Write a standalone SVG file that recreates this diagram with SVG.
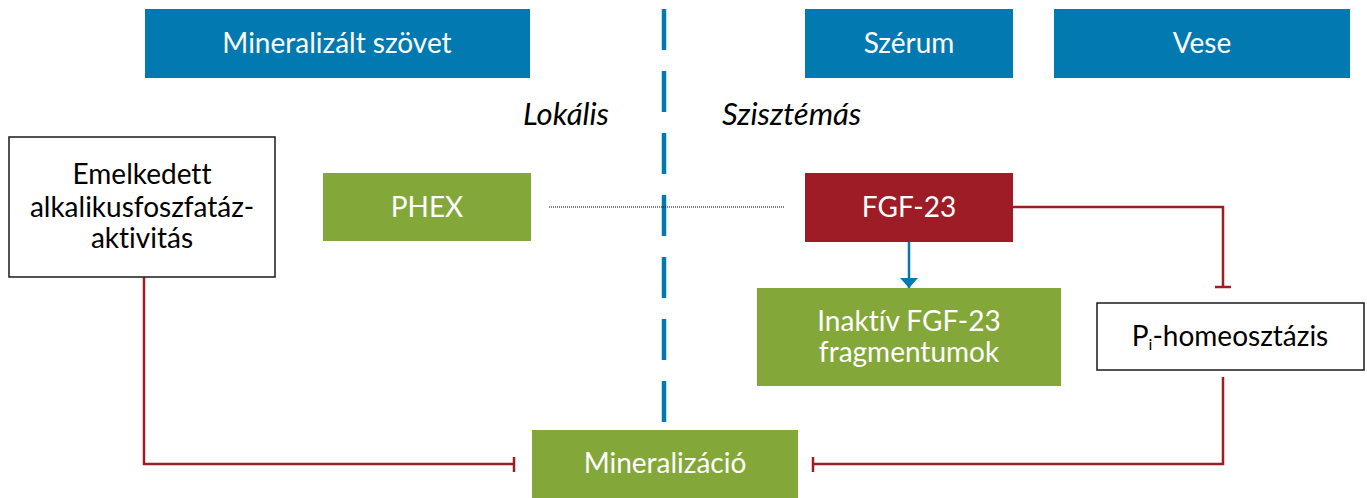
<svg xmlns="http://www.w3.org/2000/svg" width="1367" height="498" viewBox="0 0 1367 498">
<defs>
<style>
.hdr{fill:#027ab1}
.grn{fill:#84a73a}
.red{fill:#9e1c25}
.wbox{fill:#fff;stroke:#1a1a1a;stroke-width:1.5}
.t{font-family:Lato,"Open Sans",sans-serif;font-size:28px;text-anchor:middle;font-variant-ligatures:none}
.tw{fill:#fff}
.tb{fill:#000}
.it{font-family:Lato,"Open Sans",sans-serif;font-size:31px;font-style:italic;fill:#000}
.inh{fill:none;stroke:#9e1c25;stroke-width:2.5}
</style>
<marker id="arr" viewBox="0 0 10 18" refX="10" refY="9" markerWidth="10" markerHeight="18" markerUnits="userSpaceOnUse" orient="auto">
<path d="M0,0 L10,9 L0,18 Z" fill="#027ab1"/>
</marker>
</defs>
<rect width="1367" height="498" fill="#fff"/>

<g id="divider">
<line x1="664" y1="9" x2="664" y2="425" stroke="#027ab1" stroke-width="4.5" stroke-dasharray="41 21"/>
</g>

<g id="hdr-mineralizalt">
<rect class="hdr" x="145" y="9" width="385" height="69"/>
<text class="t tw" x="337" y="53">Mineralizált szövet</text>
</g>
<g id="hdr-szerum">
<rect class="hdr" x="805" y="9" width="208" height="69"/>
<text class="t tw" x="909" y="53">Szérum</text>
</g>
<g id="hdr-vese">
<rect class="hdr" x="1054" y="9" width="296" height="69"/>
<text class="t tw" x="1202" y="53">Vese</text>
</g>
<g id="lbl-lokalis">
<text class="it" x="609" y="125" text-anchor="end">Lokális</text>
</g>
<g id="lbl-szisztemas">
<text class="it" x="722" y="125">Szisztémás</text>
</g>

<g id="connectors">
<line x1="549" y1="207" x2="785" y2="207" stroke="#000" stroke-width="1" stroke-dasharray="1 1"/>
<line x1="909" y1="242" x2="909" y2="288" stroke="#027ab1" stroke-width="2.5" marker-end="url(#arr)"/>
<polyline class="inh" points="1013,207 1223,207 1223,287"/>
<line class="inh" x1="1215" y1="287" x2="1231" y2="287"/>
<polyline class="inh" points="1223,377 1223,464 813,464"/>
<line class="inh" x1="813" y1="457" x2="813" y2="472"/>
<polyline class="inh" points="144,277 144,464 514,464"/>
<line class="inh" x1="514" y1="457" x2="514" y2="472"/>
</g>

<g id="node-emelkedett">
<rect class="wbox" x="9" y="137" width="266" height="140"/>
<text class="t tb" x="142" y="184">Emelkedett</text>
<text class="t tb" x="142" y="217">alkalikusfoszfatáz-</text>
<text class="t tb" x="142" y="248">aktivitás</text>
</g>
<g id="node-phex">
<rect class="grn" x="323" y="173" width="208" height="68"/>
<text class="t tw" x="427" y="217">PHEX</text>
</g>
<g id="node-fgf23">
<rect class="red" x="805" y="173" width="208" height="69"/>
<text class="t tw" x="909" y="217">FGF-23</text>
</g>
<g id="node-inaktiv">
<rect class="grn" x="757" y="288" width="304" height="98"/>
<text class="t tw" x="909" y="331">Inaktív FGF-23</text>
<text class="t tw" x="909" y="362">fragmentumok</text>
</g>
<g id="node-pi">
<rect class="wbox" x="1097" y="303" width="267" height="67"/>
<text class="t tb" x="1230" y="346" font-size="29">P<tspan font-size="16" dy="4">i</tspan><tspan dy="-4">-homeosztázis</tspan></text>
</g>
<g id="node-mineralizacio">
<rect class="grn" x="532" y="430" width="266" height="68"/>
<text class="t tw" x="665" y="473">Mineralizáció</text>
</g>
</svg>
